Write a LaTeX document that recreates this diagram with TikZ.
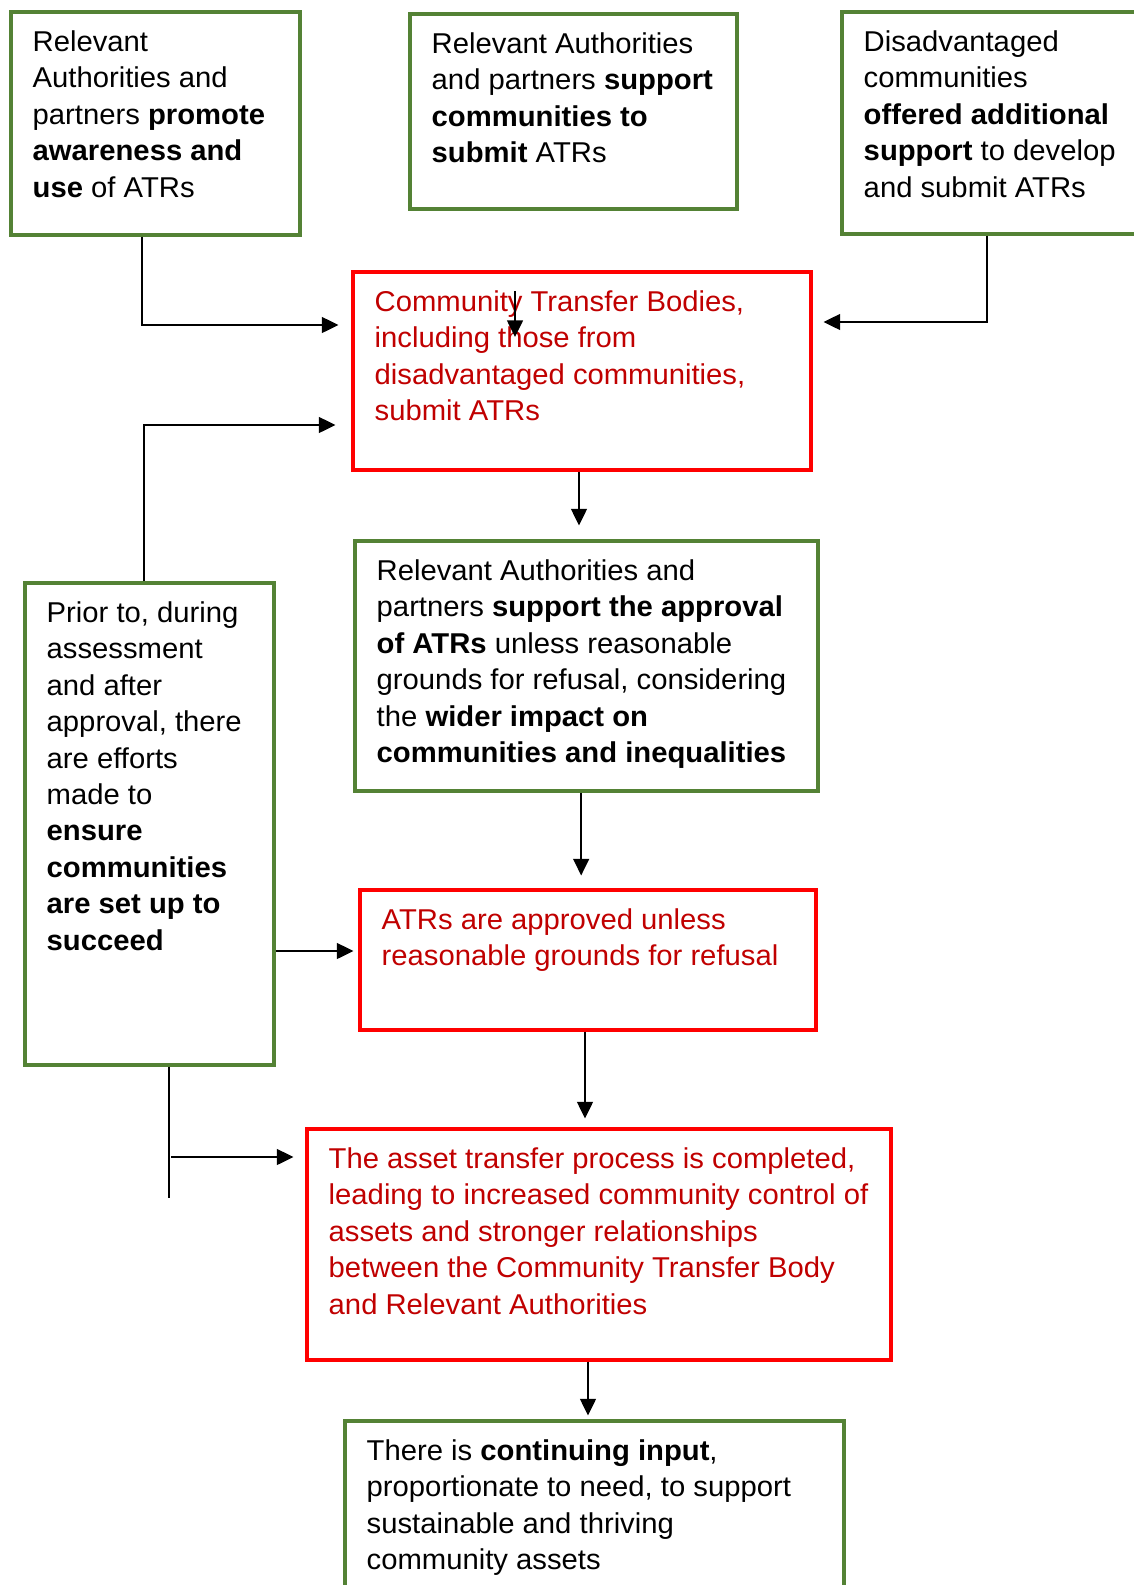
\documentclass[tikz,border=0pt]{standalone}
\usepackage{fontspec}
\setmainfont{Liberation Sans}[FakeStretch=1.02]
\usetikzlibrary{calc,fit,arrows.meta}
\definecolor{boxgreen}{RGB}{84,130,53}
\definecolor{boxred}{RGB}{255,0,0}
\definecolor{txtred}{RGB}{192,0,0}

\begin{document}
\begin{tikzpicture}[x=0.75pt, y=-0.75pt,
	greenbox/.style = {draw=boxgreen, line width=2.3pt, inner sep=0pt},
	redbox/.style = {draw=boxred, line width=2.3pt, inner sep=0pt},
	txt/.style = {anchor=north west, inner sep=0pt, align=left, font=\fontsize{21.5pt}{27.3pt}\selectfont},
	plain/.style = {line width=1.1pt},
	link/.style = {line width=1.1pt, -{Triangle[length=12.5pt, width=12pt]}}]
	\useasboundingbox (0,0) rectangle (1133,1585);

	\node[greenbox, fit={(11,12) (300,235)}] (aware) {};
	\node[greenbox, fit={(410,14) (737,209)}] (support) {};
	\node[greenbox, fit={(842,12) (1150,234)}] (extra) {};
	\node[redbox, fit={(353,272) (811,470)}] (submit) {};
	\node[greenbox, fit={(355,541) (818,791)}] (approve) {};
	\node[greenbox, fit={(25,583) (274,1065)}] (prior) {};
	\node[redbox, fit={(360,890) (816,1030)}] (approved) {};
	\node[redbox, fit={(307,1129) (891,1360)}] (complete) {};
	\node[greenbox, fit={(345,1421) (844,1600)}] (input) {};

	\node[txt] (aware-txt) at ($(aware.north west)+(23,20)$) {Relevant\\Authorities and\\partners \textbf{promote}\\\textbf{awareness and}\\\textbf{use} of ATRs};
	\node[txt] (support-txt) at ($(support.north west)+(23,20)$) {Relevant Authorities\\and partners \textbf{support}\\\textbf{communities to}\\\textbf{submit} ATRs};
	\node[txt] (extra-txt) at ($(extra.north west)+(23,20)$) {Disadvantaged\\communities\\\textbf{offered additional}\\\textbf{support} to develop\\and submit ATRs};
	\node[txt, text=txtred] (submit-txt) at ($(submit.north west)+(23,20)$) {Community Transfer Bodies,\\including those from\\disadvantaged communities,\\submit ATRs};
	\node[txt] (approve-txt) at ($(approve.north west)+(23,20)$) {Relevant Authorities and\\partners \textbf{support the approval}\\\textbf{of ATRs} unless reasonable\\grounds for refusal, considering\\the \textbf{wider impact on}\\\textbf{communities and inequalities}};
	\node[txt] (prior-txt) at ($(prior.north west)+(23,20)$) {Prior to, during\\assessment\\and after\\approval, there\\are efforts\\made to\\\textbf{ensure}\\\textbf{communities}\\\textbf{are set up to}\\\textbf{succeed}};
	\node[txt, text=txtred] (approved-txt) at ($(approved.north west)+(23,20)$) {ATRs are approved unless\\reasonable grounds for refusal};
	\node[txt, text=txtred] (complete-txt) at ($(complete.north west)+(23,20)$) {The asset transfer process is completed,\\leading to increased community control of\\assets and stronger relationships\\between the Community Transfer Body\\and Relevant Authorities};
	\node[txt] (input-txt) at ($(input.north west)+(23,20)$) {There is \textbf{continuing input},\\proportionate to need, to support\\sustainable and thriving\\community assets};

	\coordinate (aware-bend) at (142,325);
	\coordinate (extra-bend) at (987,322);
	\coordinate (stray) at (515,291);
	\coordinate (prior-bend) at (144,425);
	\coordinate (prior-out) at (274,951);
	\coordinate (prior-end) at (169,1198);
	\coordinate (prior-split) at (171,1157);

	\draw[link, shorten >=9.75pt] (aware.south -| aware-bend) |- (submit.west |- aware-bend);
	\draw[link, shorten >=8.25pt] (extra.south -| extra-bend) |- (submit.east |- extra-bend);
	\draw[link] (stray) -- ++(0,46);
	\draw[link, shorten >=10.5pt] ([xshift=-2.25pt]submit.south) -- ([xshift=-2.25pt]submit.south |- approve.north);
	\draw[link, shorten >=12pt] (prior.north -| prior-bend) |- (submit.west |- prior-bend);
	\draw[link, shorten >=9.75pt] ([xshift=-4pt]approve.south) -- ([xshift=-4pt]approve.south |- approved.north);
	\draw[link, shorten >=3.75pt] (prior.east |- prior-out) -- (approved.west |- prior-out);
	\draw[link, shorten >=6.75pt] ([xshift=-2.25pt]approved.south) -- ([xshift=-2.25pt]approved.south |- complete.north);
	\draw[plain] (prior.south -| prior-end) -- (prior-end);
	\draw[link, shorten >=9pt] (prior-split) -- (complete.west |- prior-split);
	\draw[link, shorten >=3pt] ([xshift=-8.25pt]complete.south) -- ([xshift=-8.25pt]complete.south |- input.north);
\end{tikzpicture}
\end{document}
